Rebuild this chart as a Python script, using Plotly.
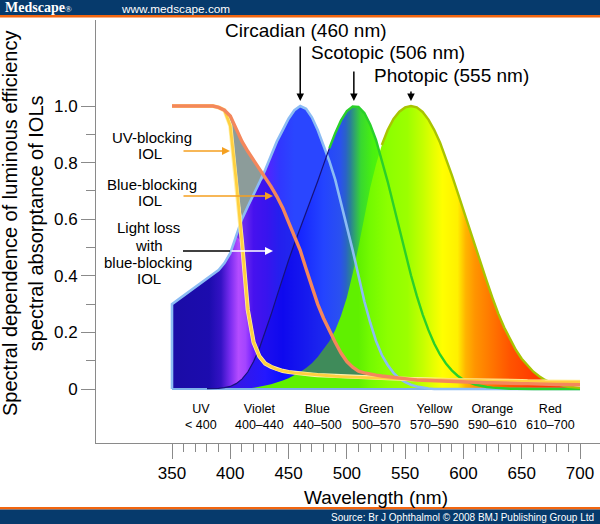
import numpy as np
import plotly.graph_objects as go

# ---------------- data ----------------
wavelength = [350, 355, 360, 365, 370, 375, 380, 385, 390, 395,
              400, 405, 410, 415, 420, 425, 430, 435, 440, 445,
              450, 455, 460, 465, 470, 475, 480, 485, 490, 495,
              500, 505, 510, 515, 520, 525, 530, 535, 540, 545,
              550, 555, 560, 565, 570, 575, 580, 585, 590, 595,
              600, 605, 610, 615, 620, 625, 630, 635, 640, 645,
              650, 655, 660, 665, 670, 675, 680, 685, 690, 695,
              700]

circadian = [0.300, 0.315, 0.330, 0.345, 0.360, 0.375, 0.390, 0.405, 0.420, 0.445,
             0.480, 0.540, 0.600, 0.645, 0.685, 0.730, 0.775, 0.825, 0.875, 0.915,
             0.955, 0.985, 1.000, 0.990, 0.960, 0.915, 0.860, 0.805, 0.740, 0.660,
             0.580, 0.490, 0.400, 0.310, 0.235, 0.170, 0.120, 0.085, 0.057, 0.037,
             0.024, 0.015, 0.009, 0.005, 0.002, 0, 0, 0, 0, 0,
             0, 0, 0, 0, 0, 0, 0, 0, 0, 0,
             0, 0, 0, 0, 0, 0, 0, 0, 0, 0,
             0]

scotopic = [0, 0, 0, 0, 0, 0, 0.001, 0.001, 0.002, 0.005,
            0.009, 0.019, 0.035, 0.060, 0.097, 0.144, 0.200, 0.263, 0.328, 0.393,
            0.455, 0.513, 0.567, 0.620, 0.676, 0.734, 0.793, 0.851, 0.904, 0.949,
            0.982, 0.998, 0.997, 0.975, 0.935, 0.880, 0.811, 0.733, 0.650, 0.564,
            0.481, 0.402, 0.329, 0.264, 0.208, 0.160, 0.121, 0.090, 0.066, 0.047,
            0.033, 0.023, 0.016, 0.011, 0.007, 0.005, 0.003, 0.002, 0.001, 0.001,
            0, 0, 0, 0, 0, 0, 0, 0, 0, 0,
            0]

photopic = [0, 0, 0, 0, 0, 0, 0, 0, 0, 0,
            0.0004, 0.0006, 0.001, 0.002, 0.004, 0.007, 0.012, 0.017, 0.023, 0.030,
            0.038, 0.048, 0.060, 0.074, 0.091, 0.113, 0.139, 0.169, 0.208, 0.259,
            0.323, 0.407, 0.503, 0.608, 0.710, 0.793, 0.862, 0.915, 0.954, 0.980,
            0.995, 1.000, 0.995, 0.979, 0.952, 0.915, 0.870, 0.816, 0.757, 0.695,
            0.631, 0.567, 0.503, 0.441, 0.381, 0.321, 0.265, 0.217, 0.175, 0.138,
            0.107, 0.082, 0.061, 0.045, 0.032, 0.023, 0.017, 0.012, 0.008, 0.006,
            0.004]

uv_blocking = [1.0, 1.0, 1.0, 1.0, 1.0, 1.0, 1.0, 1.0, 0.995, 0.985,
               0.930, 0.740, 0.520, 0.280, 0.165, 0.115, 0.090, 0.078, 0.069, 0.064,
               0.060, 0.057, 0.055, 0.053, 0.051, 0.049, 0.048, 0.046, 0.045, 0.044,
               0.043, 0.042, 0.041, 0.040, 0.040, 0.039, 0.038, 0.037, 0.037, 0.036,
               0.036, 0.035, 0.035, 0.034, 0.034, 0.033, 0.033, 0.032, 0.032, 0.031,
               0.031, 0.031, 0.030, 0.030, 0.030, 0.029, 0.029, 0.029, 0.028, 0.028,
               0.028, 0.027, 0.027, 0.027, 0.026, 0.026, 0.026, 0.025, 0.025, 0.025,
               0.025]

blue_blocking = [1.0, 1.0, 1.0, 1.0, 1.0, 1.0, 1.0, 1.0, 0.995, 0.985,
                 0.965, 0.920, 0.875, 0.840, 0.810, 0.780, 0.750, 0.715, 0.680, 0.640,
                 0.590, 0.540, 0.490, 0.425, 0.360, 0.300, 0.250, 0.205, 0.165, 0.127,
                 0.097, 0.077, 0.063, 0.057, 0.052, 0.049, 0.046, 0.043, 0.040, 0.038,
                 0.036, 0.034, 0.032, 0.031, 0.030, 0.029, 0.028, 0.027, 0.026, 0.025,
                 0.024, 0.024, 0.023, 0.023, 0.022, 0.022, 0.021, 0.021, 0.020, 0.020,
                 0.019, 0.019, 0.018, 0.018, 0.017, 0.017, 0.016, 0.016, 0.016, 0.015,
                 0.015]

x_major_ticks = [350, 400, 450, 500, 550, 600, 650, 700]
x_minor_ticks = [360, 370, 380, 390, 410, 420, 430, 440, 460, 470, 480, 490,
                 510, 520, 530, 540, 560, 570, 580, 590, 610, 620, 630, 640,
                 660, 670, 680, 690]
y_tick_vals = [0, 0.2, 0.4, 0.6, 0.8, 1.0]
y_tick_text = ["0", "0.2", "0.4", "0.6", "0.8", "1.0"]
y_minor_ticks = [0.1, 0.3, 0.5, 0.7, 0.9]

band_names = ["UV<br>&lt; 400", "Violet<br>400–440", "Blue<br>440–500",
              "Green<br>500–570", "Yellow<br>570–590", "Orange<br>590–610",
              "Red<br>610–700"]
band_centers = [375, 425, 475, 525, 575, 625, 675]

# ---------------- helpers ----------------
W = np.array(wavelength, dtype=float)
C = np.array(circadian)
S = np.array(scotopic)
P = np.array(photopic)
U = np.array(uv_blocking)
B = np.array(blue_blocking)

FONT = "Liberation Sans, Arial, Helvetica, sans-serif"
L, T, BOT = 96, 20, 443          # plot area pixel edges
XPX = 408 / 350.0                # pixels per nm
Y0PX, YPX = 389, 283.0           # pixel of y=0, pixels per unit


def pxx(px):
    return (px - L) / (600 - L)


def pxy(py):
    return (BOT - py) / (BOT - T)


def nm(px):
    return 350 + (px - 172) / XPX


def yv(py):
    return (Y0PX - py) / YPX


def grad(stops):
    lo, hi = 350.0, 700.0
    return dict(type="horizontal", start=lo, stop=hi,
                colorscale=[[(w - lo) / (hi - lo), c] for w, c in stops])


circ_grad = grad([(350, "#1a0ca6"), (382, "#1c0cae"), (392, "#3412c4"),
                  (400, "#7a2cf0"), (407, "#b44cff"), (413, "#a444ff"),
                  (420, "#6c1eff"), (432, "#5224ff"), (443, "#3038ff"),
                  (455, "#2a46ff"), (700, "#2a46ff")])
scot_grad = grad([(350, "#1a0ca6"), (400, "#3a14e0"), (430, "#2418ff"),
                  (445, "#0c10ff"), (480, "#2444ff"), (494, "#2a50f0"),
                  (499, "#2a62c8"), (503, "#2a8098"), (507, "#30a868"),
                  (512, "#38d830"), (522, "#48f010"), (540, "#60ff00"),
                  (560, "#a8ff00"), (580, "#e8ff00"), (600, "#ffff00"),
                  (700, "#ffff00")])
phot_grad = grad([(350, "#60f000"), (510, "#60f000"), (520, "#74fa00"),
                  (535, "#8cff00"), (552, "#9cff00"), (565, "#c4ff00"),
                  (575, "#e8ff00"), (582, "#ffff00"), (595, "#fff000"),
                  (602, "#ffb400"), (610, "#ff9400"), (625, "#ff7400"),
                  (640, "#ff5400"), (660, "#ff3c00"), (700, "#ff3000")])

fig = go.Figure()

# spectral fills
for yy, g in [(C, circ_grad), (S, scot_grad), (P, phot_grad)]:
    fig.add_trace(go.Scatter(x=W, y=yy, mode="lines", line=dict(width=0),
                             fill="tozeroy", fillgradient=g, hoverinfo="skip"))

# derived regions: light loss (darker) and gray region above curves
env = np.maximum(np.maximum(C, S), P)
dark_hi = np.minimum(B, env)
dark_lo = np.minimum(U, dark_hi)
fig.add_trace(go.Scatter(x=W, y=dark_lo, mode="lines", line=dict(width=0),
                         hoverinfo="skip"))
fig.add_trace(go.Scatter(x=W, y=dark_hi, mode="lines", line=dict(width=0),
                         fill="tonexty", fillcolor="rgba(20,0,215,0.42)",
                         hoverinfo="skip"))
gray_lo = np.minimum(np.maximum(U, env), B)
fig.add_trace(go.Scatter(x=W, y=gray_lo, mode="lines", line=dict(width=0),
                         hoverinfo="skip"))
fig.add_trace(go.Scatter(x=W, y=B, mode="lines", line=dict(width=0),
                         fill="tonexty", fillcolor="#8c9c9a", hoverinfo="skip"))

# baseline
fig.add_trace(go.Scatter(x=W, y=np.zeros_like(W), mode="lines",
                         line=dict(color="#7fb2ea", width=2.2), hoverinfo="skip"))
# outlines
fig.add_trace(go.Scatter(x=np.concatenate([[W[0]], W]), y=np.concatenate([[0.0], C]),
                         mode="lines", line=dict(color="#8cbcf4", width=2.6),
                         hoverinfo="skip"))
m_left = W <= 485
m_right = W >= 485
fig.add_trace(go.Scatter(x=W[m_left & (S > 0)], y=S[m_left & (S > 0)], mode="lines",
                         line=dict(color="#16127a", width=1.2), hoverinfo="skip"))
fig.add_trace(go.Scatter(x=W[m_right], y=S[m_right], mode="lines",
                         line=dict(color="#2ad02a", width=2.4), hoverinfo="skip"))
m_p = W >= 528
fig.add_trace(go.Scatter(x=W[m_p], y=P[m_p], mode="lines",
                         line=dict(color="#a8c400", width=2.4), hoverinfo="skip"))
# IOL curves
fig.add_trace(go.Scatter(x=W, y=U, mode="lines",
                         line=dict(color="#fff0a8", width=4.2), hoverinfo="skip"))
fig.add_trace(go.Scatter(x=W, y=U, mode="lines",
                         line=dict(color="#ffd040", width=2.8), hoverinfo="skip"))
fig.add_trace(go.Scatter(x=W, y=B, mode="lines",
                         line=dict(color="#f4875c", width=3.4), hoverinfo="skip"))

# ---------------- decorations ----------------
shapes = [
    dict(type="rect", xref="paper", yref="paper", x0=pxx(0), x1=pxx(600),
         y0=pxy(15), y1=pxy(0), fillcolor="#063a6c", line=dict(width=0), layer="above"),
    dict(type="rect", xref="paper", yref="paper", x0=pxx(0), x1=pxx(600),
         y0=pxy(17.5), y1=pxy(15), fillcolor="#f2650f", line=dict(width=0), layer="above"),
    dict(type="rect", xref="paper", yref="paper", x0=pxx(0), x1=pxx(600),
         y0=pxy(509.5), y1=pxy(507), fillcolor="#f2650f", line=dict(width=0), layer="above"),
    dict(type="rect", xref="paper", yref="paper", x0=pxx(0), x1=pxx(600),
         y0=pxy(524), y1=pxy(509.5), fillcolor="#063a6c", line=dict(width=0), layer="above"),
    # black part of the light loss pointer
    dict(type="line", xref="x", yref="y", x0=nm(183), x1=nm(230), y0=yv(251), y1=yv(251),
         line=dict(color="black", width=1.5)),
]

ann = []


def add_text(text, x, y, size, xref="x", yref="y", color="black", xanchor="center",
             family=FONT, angle=0, align="center"):
    ann.append(dict(text=text, x=x, y=y, xref=xref, yref=yref, showarrow=False,
                    font=dict(family=family, size=size, color=color),
                    xanchor=xanchor, yanchor="middle", textangle=angle, align=align))


def add_arrow(x, y, ax, ay, color, width=1.5, size=1.0):
    ann.append(dict(text="", x=x, y=y, ax=ax, ay=ay, xref="x", yref="y",
                    axref="x", ayref="y", showarrow=True, arrowhead=2,
                    arrowsize=size, arrowwidth=width, arrowcolor=color))


# header / footer text
add_text("<b>Medscape</b><span style='font-size:9px'>®</span>", pxx(3), pxy(8), 14,
         "paper", "paper", "white", "left", "Liberation Serif, Times New Roman, serif")
add_text("www.medscape.com", pxx(175), pxy(8.5), 11.8, "paper", "paper", "white")
add_text("Source: Br J Ophthalmol © 2008 BMJ Publishing Group Ltd", pxx(596), pxy(517),
         10, "paper", "paper", "white", "right")

# axis titles
add_text("Spectral dependence of luminous efficiency<br>spectral absorptance of IOLs",
         pxx(23), pxy(224), 20, "paper", "paper", angle=-90)
add_text("Wavelength (nm)", pxx(376), pxy(497), 19, "paper", "paper")

# peak labels and arrows
add_text("Circadian (460 nm)", nm(306), yv(30), 19)
add_text("Scotopic (506 nm)", nm(388), yv(52), 19)
add_text("Photopic (555 nm)", nm(451), yv(75), 19)
add_arrow(460, 1.018, 460, yv(45), "black")
add_arrow(506, 1.018, 506, yv(70), "black")
add_arrow(555, 1.018, 555, yv(90), "black")

# IOL labels (one annotation per line)
for txt, cx, cy in [("UV-blocking", 152, 137), ("IOL", 150, 153),
                    ("Blue-blocking", 151.5, 184), ("IOL", 150, 200),
                    ("Light loss", 148, 227.5), ("with", 149, 245),
                    ("blue-blocking", 148, 262.5), ("IOL", 148.5, 278.5)]:
    add_text(txt, nm(cx), yv(cy), 15)
add_arrow(nm(230), yv(151), nm(182), yv(151), "#f5a020", 1.6, 1.0)
add_arrow(nm(273), yv(196), nm(182), yv(196), "#f5a020", 1.6, 1.0)
add_arrow(nm(273), yv(251), nm(230), yv(251), "white", 1.6, 1.0)

# colour band labels
for name, xc in zip(band_names, band_centers):
    add_text(name, xc, yv(417), 12.5)

# ---------------- layout ----------------
fig.update_layout(
    width=600, height=524,
    margin=dict(l=L, r=0, t=T, b=524 - BOT, pad=0),
    paper_bgcolor="white", plot_bgcolor="white",
    showlegend=False, hovermode=False,
    font=dict(family=FONT, color="black"),
    shapes=shapes, annotations=ann,
    xaxis=dict(range=[nm(L), nm(600)],
               showgrid=False, zeroline=False, showline=True, linecolor="#8a8a8a",
               linewidth=1, ticks="outside", ticklen=15, tickcolor="#8a8a8a",
               tickwidth=1, tickmode="array", tickvals=x_major_ticks,
               tickfont=dict(size=17, family=FONT, color="black"),
               minor=dict(tickmode="array", tickvals=x_minor_ticks, ticks="outside",
                          ticklen=8, tickcolor="#8a8a8a", tickwidth=1)),
    yaxis=dict(range=[yv(BOT), yv(T)],
               showgrid=False, zeroline=False, showline=True, linecolor="#8a8a8a",
               linewidth=1, ticks="outside", ticklen=14, tickcolor="#8a8a8a",
               tickwidth=1, tickmode="array", tickvals=y_tick_vals,
               ticktext=y_tick_text,
               tickfont=dict(size=17, family=FONT, color="black"),
               minor=dict(tickmode="array", tickvals=y_minor_ticks, ticks="outside",
                          ticklen=9, tickcolor="#8a8a8a", tickwidth=1)),
)

fig.write_html("out.html", config={"displayModeBar": False},
               post_script="document.body.style.margin='0';")
